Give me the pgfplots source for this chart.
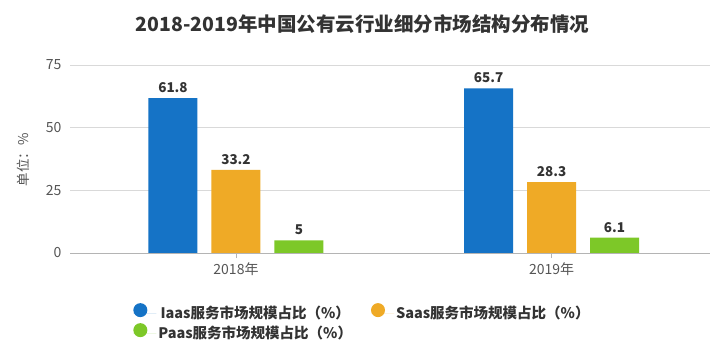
\documentclass[border=0pt]{standalone}
\usepackage{fontspec}
\setmainfont{Noto Sans CJK SC}
\usepackage{pgfplots}
\pgfplotsset{compat=1.18}
\definecolor{cBlue}{HTML}{1573C6}
\definecolor{cOrange}{HTML}{EFAA26}
\definecolor{cGreen}{HTML}{7DC828}
\definecolor{cText}{HTML}{333333}
\definecolor{cTick}{HTML}{555555}
\definecolor{cGrid}{HTML}{D9D9D9}
\definecolor{cAxis}{HTML}{B4B4B4}
\begin{document}
\begin{tikzpicture}
\fill[white] (0,0) rectangle (726bp,354bp);
\useasboundingbox (0,0) rectangle (726bp,354bp);
\node[font=\fontsize{19.5bp}{22bp}\selectfont\bfseries, text=cText] at (362.5bp,330bp) {2018-2019年中国公有云行业细分市场结构分布情况};
\node[font=\fontsize{13.5bp}{16bp}\selectfont, text=cTick, rotate=90] at (23bp,194bp) {单位：\%};
\begin{axis}[
  at={(70bp,101bp)}, anchor=south west,
  scale only axis, width=640bp, height=188bp,
  ymin=0, ymax=75, ytick={0,25,50,75},
  xmin=-0.526, xmax=1.502,
  xtick={0,1}, xticklabels={2018年,2019年},
  /pgf/number format/assume math mode=true,
  ticklabel style={font=\fontsize{14bp}{16bp}\selectfont, text=cTick},
  ymajorgrids, grid style={cGrid, line width=0.8pt},
  axis x line*=bottom, axis y line*=left,
  y axis line style={draw=none},
  x axis line style={cAxis, line width=0.8pt, -},
  ytick style={draw=none},
  xtick style={cAxis, line width=0.8pt},
  major tick length=5bp,
  xtick pos=bottom,
  x tick label style={yshift=-1bp},
  y tick label style={xshift=-5bp},
  ybar, bar width=49bp,
  nodes near coords,
  every node near coord/.append style={font=\fontsize{13.5bp}{15bp}\selectfont\bfseries, text=cText, anchor=south, yshift=2bp},
  legend columns=2,
  legend style={at={(0.094,-0.255)}, anchor=north west, draw=none, fill=none,
    font=\fontsize{14.5bp}{17bp}\selectfont\bfseries, text=cText,
    /tikz/every even column/.append style={column sep=17bp},
    row sep=1bp},
  legend image code/.code={\fill[#1] (0bp,0.3em) circle (7bp); \path (-7bp,0) -- (16bp,0);},
]
\addplot[fill=cBlue, draw=none, bar shift=-63bp] coordinates {(0,61.8) (1,65.7)};
\addlegendentry{Iaas服务市场规模占比（\%）}
\addplot[fill=cOrange, draw=none, bar shift=0bp] coordinates {(0,33.2) (1,28.3)};
\addlegendentry{Saas服务市场规模占比（\%）}
\addplot[fill=cGreen, draw=none, bar shift=63bp] coordinates {(0,5) (1,6.1)};
\addlegendentry{Paas服务市场规模占比（\%）}
\end{axis}
\end{tikzpicture}
\end{document}
